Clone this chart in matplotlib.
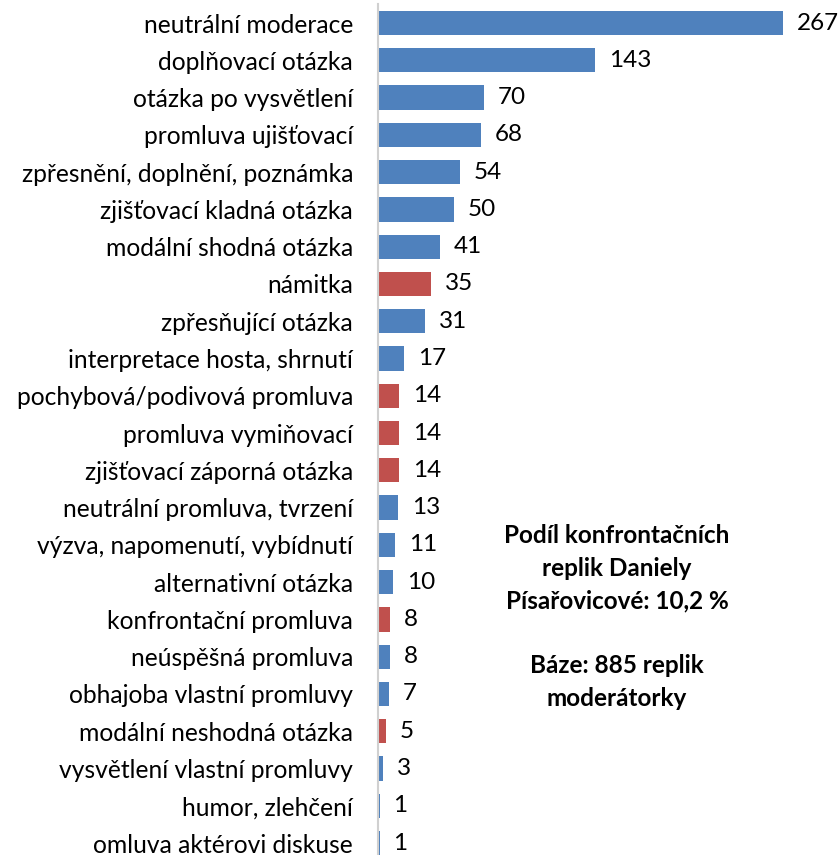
import matplotlib
matplotlib.use("Agg")
import matplotlib.pyplot as plt

categories = [
    "neutrální moderace", "doplňovací otázka", "otázka po vysvětlení",
    "promluva ujišťovací", "zpřesnění, doplnění, poznámka", "zjišťovací kladná otázka",
    "modální shodná otázka", "námitka", "zpřesňující otázka",
    "interpretace hosta, shrnutí", "pochybová/podivová promluva", "promluva vymiňovací",
    "zjišťovací záporná otázka", "neutrální promluva, tvrzení", "výzva, napomenutí, vybídnutí",
    "alternativní otázka", "konfrontační promluva", "neúspěšná promluva",
    "obhajoba vlastní promluvy", "modální neshodná otázka", "vysvětlení vlastní promluvy",
    "humor, zlehčení", "omluva aktérovi diskuse",
]
values = [267, 143, 70, 68, 54, 50, 41, 35, 31, 17, 14, 14, 14, 13, 11, 10, 8, 8, 7, 5, 3, 1, 1]
confrontational = [False, False, False, False, False, False, False, True, False, False,
                   True, True, True, False, False, False, True, False, False, True,
                   False, False, False]
note = "Podíl konfrontačních\nreplik Daniely\nPísařovicové: 10,2 %\n\nBáze: 885 replik\nmoderátorky"

BLUE = "#4F81BD"
RED = "#C0504D"

plt.rcParams['font.family'] = ['Lato', 'DejaVu Sans']

W, H = 839, 855
fig = plt.figure(figsize=(W / 100, H / 100), dpi=100)
left = 378 / W
right = 783 / W
ax = fig.add_axes([left, 0.0, right - left, (H - 4.4) / H])

pos = list(range(len(categories)))
colors = [RED if c else BLUE for c in confrontational]
ax.barh(pos, values, height=0.65, color=colors)
ax.set_xlim(0, 267)
ax.set_ylim(22.32, -0.5)

for p, v in zip(pos, values):
    ax.annotate(str(v), (v, p), xytext=(10, 0), textcoords="offset points",
                va="center", ha="left", fontsize=17.5, color="black", annotation_clip=False)

ax.set_yticks(pos)
ax.set_yticklabels(categories, fontsize=17.7)
ax.tick_params(axis='y', length=0, pad=18)
ax.set_xticks([])
for s in ["top", "right", "bottom"]:
    ax.spines[s].set_visible(False)
ax.spines["left"].set_color("#D0D0D0")
ax.spines["left"].set_linewidth(1.5)

fig.text(617 / W, 1 - 617 / H, note, ha="center", va="center", fontsize=17.5,
         fontweight="bold", linespacing=1.5)

fig.savefig("out.png", dpi=100)
